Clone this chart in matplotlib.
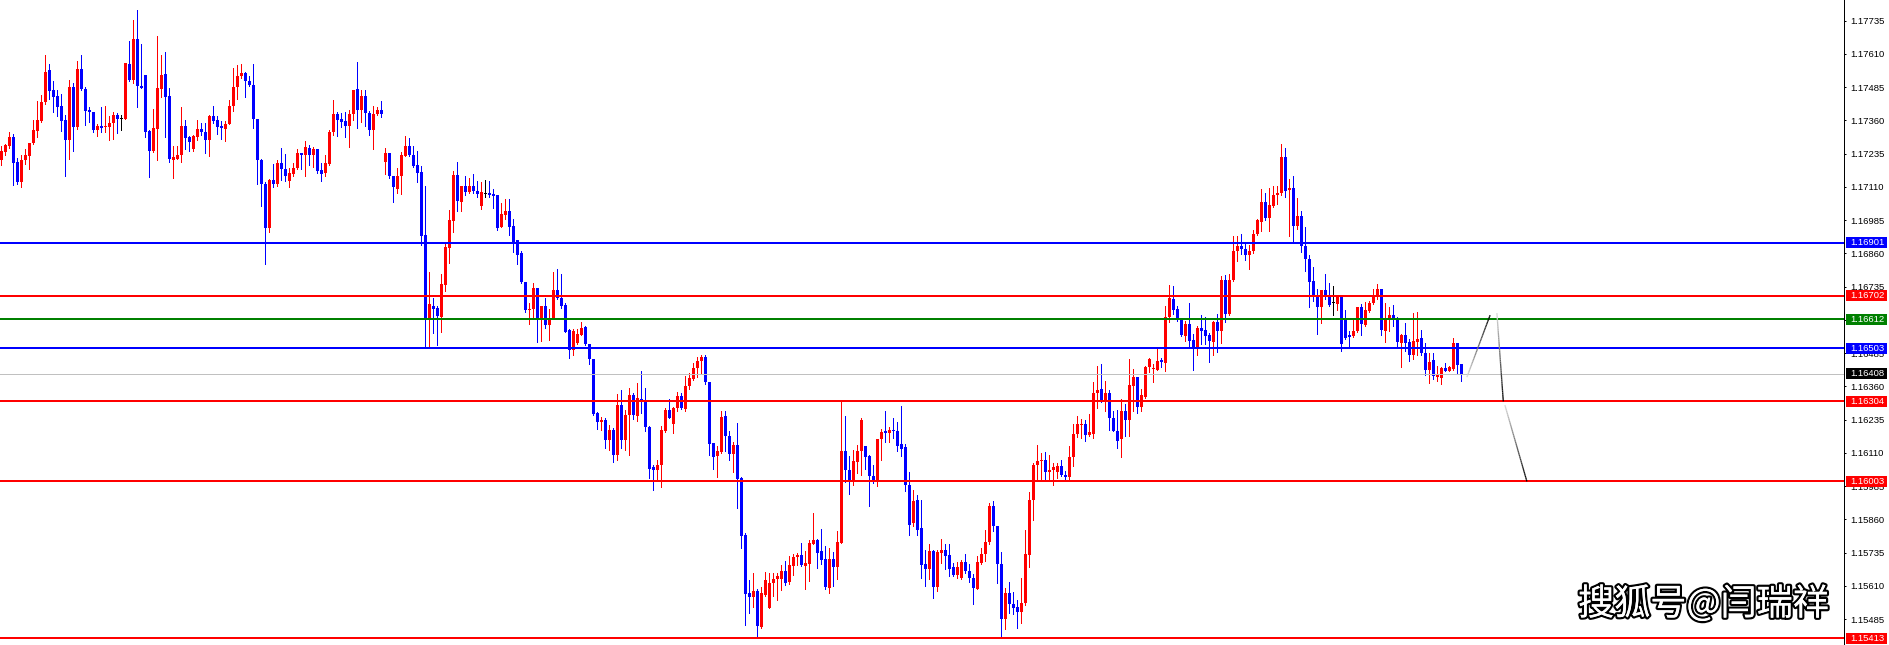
import matplotlib
matplotlib.use("Agg")
import matplotlib.pyplot as plt
import matplotlib.transforms as mtransforms
import matplotlib.patheffects as pe
from matplotlib.collections import LineCollection
import numpy as np

# ---------------- data (prices in 1e-5 units) ----------------
open_pts = [
    117211, 117240, 117263, 117297, 117204, 117128, 117210, 117225, 117275, 117322,
    117357, 117428, 117548, 117473, 117451, 117413, 117363, 117288, 117486, 117334,
    117554, 117479, 117401, 117393, 117323, 117341, 117334, 117334, 117351, 117382,
    117367, 117367, 117573, 117511, 117667, 117491, 117532, 117319, 117244, 117329,
    117478, 117536, 117451, 117210, 117217, 117232, 117341, 117297, 117251, 117297,
    117329, 117317, 117286, 117378, 117361, 117338, 117328, 117348, 117416, 117486,
    117526, 117538, 117509, 117494, 117367, 117213, 117123, 116954, 117138, 117123,
    117200, 117179, 117134, 117157, 117182, 117236, 117229, 117257, 117232, 117251,
    117172, 117163, 117197, 117317, 117384, 117366, 117357, 117338, 117384, 117478,
    117398, 117453, 117388, 117326, 117386, 117401, 117203, 117236, 117153, 117104,
    117150, 117228, 117263, 117231, 117194, 117165, 116928, 116613, 116663, 116654,
    116623, 116741, 116881, 116981, 117156, 117053, 117113, 117090, 117115, 117096,
    117038, 117084, 117089, 117085, 117078, 116959, 117006, 117021, 116963, 116909,
    116863, 116754, 116646, 116653, 116731, 116613, 116663, 116590, 116619, 116721,
    116691, 116665, 116573, 116498, 116525, 116553, 116585, 116519, 116463, 116260,
    116228, 116234, 116159, 116196, 116102, 116290, 116159, 116253, 116328, 116250,
    116313, 116310, 116206, 116056, 116045, 116063, 116193, 116270, 116220, 116278,
    116325, 116276, 116360, 116387, 116430, 116455, 116470, 116378, 116147, 116100,
    116112, 116250, 116175, 116107, 116141, 116016, 115800, 115582, 115568, 115591,
    115457, 115575, 115526, 115622, 115635, 115637, 115668, 115625, 115685, 115720,
    115726, 115685, 115691, 115768, 115781, 115741, 115710, 115603, 115710, 115681,
    115772, 116116, 116047, 116006, 116076, 116116, 116137, 116097, 116025, 116006,
    116163, 116193, 116185, 116197, 116193, 116143, 116131, 115991, 115845, 115935,
    115828, 115691, 115672, 115743, 115606, 115735, 115747, 115725, 115681, 115650,
    115641, 115701, 115668, 115641, 115600, 115697, 115731, 115776, 115912, 115837,
    115693, 115485, 115582, 115541, 115531, 115512, 115545, 115728, 115932, 116063,
    116078, 116085, 116037, 116045, 116037, 116062, 116028, 116018, 116093, 116181,
    116216, 116220, 116176, 116181, 116335, 116350, 116310, 116337, 116241, 116193,
    116162, 116268, 116234, 116362, 116395, 116283, 116320, 116433, 116424, 116422,
    116458, 116449, 116620, 116690, 116652, 116609, 116549, 116593, 116534, 116505,
    116580, 116574, 116552, 116527, 116602, 116568, 116762, 116633, 116759, 116868,
    116887, 116878, 116853, 116868, 116933, 116980, 117055, 116993, 117039, 117080,
    117087, 117224, 117097, 117105, 116962, 117002, 116887, 116839, 116758, 116702,
    116658, 116724, 116702, 116672, 116670, 116699, 116618, 116555, 116549, 116568,
    116658, 116590, 116645, 116672, 116699, 116728, 116570, 116609, 116627, 116618,
    116524, 116555, 116527, 116480, 116527, 116543, 116487, 116422, 116458, 116397,
    116390, 116430, 116420, 116427, 116522, 116443,
]
high_pts = [
    117263, 117273, 117315, 117309, 117219, 117232, 117253, 117275, 117363, 117432,
    117457, 117607, 117573, 117507, 117476, 117461, 117382, 117513, 117501, 117582,
    117607, 117486, 117411, 117393, 117348, 117411, 117416, 117376, 117392, 117388,
    117382, 117578, 117659, 117738, 117776, 117648, 117532, 117326, 117403, 117679,
    117607, 117619, 117484, 117263, 117263, 117409, 117363, 117303, 117307, 117363,
    117351, 117351, 117382, 117413, 117378, 117357, 117359, 117438, 117557, 117569,
    117572, 117541, 117526, 117573, 117367, 117216, 117128, 117141, 117197, 117213,
    117257, 117234, 117182, 117200, 117251, 117236, 117284, 117269, 117259, 117251,
    117200, 117232, 117326, 117438, 117392, 117388, 117392, 117401, 117476, 117579,
    117476, 117476, 117394, 117413, 117409, 117434, 117257, 117238, 117153, 117181,
    117240, 117300, 117296, 117265, 117244, 117188, 117113, 116790, 116694, 116663,
    116781, 116894, 117025, 117169, 117203, 117115, 117150, 117144, 117160, 117131,
    117128, 117138, 117134, 117104, 117080, 117050, 117063, 117063, 116990, 116909,
    116871, 116754, 116675, 116750, 116731, 116663, 116694, 116650, 116791, 116803,
    116784, 116673, 116575, 116575, 116575, 116604, 116588, 116521, 116465, 116263,
    116244, 116241, 116215, 116204, 116332, 116347, 116271, 116354, 116335, 116372,
    116420, 116353, 116212, 116063, 116085, 116212, 116278, 116312, 116281, 116341,
    116335, 116400, 116410, 116450, 116470, 116480, 116480, 116378, 116147, 116135,
    116266, 116266, 116191, 116153, 116222, 116020, 115810, 115631, 115657, 115597,
    115607, 115662, 115660, 115657, 115660, 115687, 115703, 115722, 115732, 115735,
    115770, 115741, 115781, 115885, 115788, 115826, 115760, 115753, 115737, 115816,
    116301, 116250, 116100, 116122, 116141, 116241, 116137, 116103, 116066, 116163,
    116201, 116266, 116207, 116241, 116226, 116287, 116143, 116038, 115972, 115951,
    115935, 115747, 115766, 115747, 115747, 115785, 115766, 115768, 115697, 115700,
    115707, 115732, 115691, 115656, 115722, 115751, 115822, 115922, 115928, 115837,
    115738, 115601, 115626, 115588, 115556, 115641, 115822, 115963, 116072, 116141,
    116110, 116112, 116103, 116072, 116072, 116085, 116041, 116135, 116220, 116250,
    116237, 116235, 116257, 116378, 116438, 116445, 116381, 116345, 116266, 116270,
    116312, 116293, 116464, 116424, 116395, 116349, 116437, 116468, 116445, 116509,
    116468, 116662, 116743, 116739, 116664, 116612, 116608, 116674, 116559, 116587,
    116630, 116622, 116562, 116608, 116633, 116774, 116778, 116784, 116927, 116924,
    116934, 116902, 116893, 116949, 116989, 117103, 117087, 117105, 117114, 117112,
    117272, 117255, 117139, 117152, 117068, 117020, 116959, 116855, 116808, 116727,
    116724, 116784, 116749, 116737, 116699, 116699, 116649, 116570, 116612, 116658,
    116670, 116677, 116680, 116727, 116747, 116728, 116674, 116658, 116668, 116622,
    116558, 116597, 116537, 116637, 116639, 116574, 116522, 116484, 116484, 116437,
    116434, 116447, 116437, 116543, 116522, 116443,
]
low_pts = [
    117194, 117229, 117257, 117117, 117123, 117109, 117197, 117178, 117273, 117298,
    117353, 117423, 117441, 117391, 117378, 117322, 117151, 117217, 117244, 117328,
    117476, 117344, 117354, 117317, 117301, 117317, 117316, 117286, 117289, 117313,
    117326, 117366, 117507, 117501, 117409, 117482, 117298, 117147, 117241, 117213,
    117448, 117298, 117203, 117142, 117217, 117203, 117253, 117244, 117244, 117288,
    117307, 117238, 117228, 117351, 117311, 117291, 117284, 117348, 117394, 117441,
    117519, 117447, 117491, 117332, 117123, 117038, 116819, 116941, 117109, 117113,
    117138, 117132, 117111, 117151, 117178, 117178, 117151, 117191, 117184, 117163,
    117134, 117151, 117194, 117307, 117301, 117336, 117298, 117261, 117363, 117332,
    117354, 117338, 117307, 117254, 117382, 117373, 117157, 117144, 117053, 117088,
    117085, 117225, 117225, 117184, 117128, 116891, 116506, 116506, 116560, 116516,
    116565, 116719, 116823, 116940, 117019, 117019, 117081, 117088, 117088, 117071,
    117028, 117071, 117073, 117031, 116950, 116959, 116988, 116931, 116865, 116819,
    116750, 116640, 116594, 116615, 116528, 116531, 116581, 116534, 116613, 116688,
    116654, 116563, 116466, 116478, 116521, 116553, 116516, 116444, 116253, 116200,
    116195, 116129, 116121, 116076, 116083, 116129, 116121, 116102, 116238, 116232,
    116260, 116193, 116016, 115972, 116012, 115982, 116188, 116241, 116185, 116266,
    116275, 116266, 116351, 116385, 116395, 116407, 116370, 116103, 116051, 116018,
    116110, 116118, 116082, 116037, 115903, 115753, 115462, 115510, 115532, 115416,
    115453, 115572, 115526, 115572, 115556, 115595, 115612, 115616, 115650, 115687,
    115685, 115597, 115628, 115766, 115676, 115691, 115597, 115585, 115610, 115635,
    115772, 116001, 115957, 115988, 116035, 116026, 116051, 115910, 115997, 115987,
    116085, 116153, 116150, 116166, 116116, 116097, 115966, 115803, 115835, 115803,
    115641, 115610, 115635, 115563, 115591, 115697, 115672, 115647, 115647, 115641,
    115637, 115660, 115625, 115541, 115597, 115691, 115703, 115768, 115816, 115620,
    115416, 115447, 115507, 115503, 115451, 115470, 115538, 115681, 115857, 116003,
    116003, 116003, 116003, 115988, 116016, 116022, 116006, 116003, 116060, 116170,
    116166, 116156, 116172, 116166, 116278, 116303, 116266, 116195, 116191, 116128,
    116095, 116174, 116174, 116268, 116262, 116268, 116318, 116414, 116377, 116422,
    116434, 116418, 116602, 116634, 116605, 116549, 116530, 116512, 116422, 116477,
    116518, 116518, 116452, 116477, 116489, 116524, 116602, 116630, 116755, 116830,
    116859, 116837, 116803, 116862, 116928, 116943, 116987, 116943, 117034, 117047,
    117080, 117074, 116924, 116905, 116953, 116865, 116793, 116658, 116680, 116558,
    116599, 116687, 116662, 116630, 116649, 116493, 116539, 116505, 116547, 116564,
    116555, 116589, 116640, 116670, 116687, 116555, 116527, 116568, 116587, 116505,
    116433, 116495, 116455, 116464, 116480, 116480, 116402, 116372, 116389, 116380,
    116368, 116418, 116418, 116422, 116409, 116380,
]
close_pts = [
    117244, 117267, 117297, 117200, 117128, 117213, 117229, 117275, 117325, 117363,
    117428, 117544, 117469, 117447, 117409, 117359, 117288, 117486, 117334, 117554,
    117478, 117394, 117392, 117323, 117338, 117333, 117338, 117351, 117382, 117367,
    117367, 117576, 117511, 117667, 117488, 117482, 117316, 117244, 117332, 117484,
    117532, 117448, 117216, 117222, 117232, 117341, 117294, 117278, 117301, 117329,
    117317, 117286, 117378, 117357, 117336, 117332, 117348, 117416, 117486, 117528,
    117538, 117507, 117494, 117366, 117210, 117123, 116954, 117138, 117123, 117200,
    117176, 117151, 117161, 117182, 117236, 117229, 117259, 117232, 117251, 117169,
    117159, 117200, 117317, 117384, 117363, 117353, 117338, 117384, 117476, 117398,
    117453, 117388, 117326, 117386, 117401, 117384, 117236, 117151, 117109, 117150,
    117231, 117263, 117231, 117190, 117163, 116925, 116613, 116669, 116650, 116625,
    116744, 116884, 116984, 117156, 117056, 117115, 117090, 117115, 117094, 117085,
    117090, 117084, 117080, 117075, 116954, 117009, 117021, 116959, 116903, 116856,
    116753, 116646, 116653, 116731, 116613, 116663, 116590, 116619, 116721, 116691,
    116663, 116565, 116498, 116569, 116556, 116581, 116519, 116465, 116256, 116228,
    116234, 116159, 116196, 116102, 116290, 116159, 116253, 116328, 116253, 116316,
    116303, 116206, 116051, 116045, 116066, 116197, 116272, 116243, 116278, 116325,
    116278, 116363, 116391, 116430, 116455, 116470, 116375, 116145, 116095, 116116,
    116247, 116172, 116107, 116141, 116013, 115797, 115578, 115570, 115591, 115460,
    115582, 115631, 115622, 115638, 115647, 115666, 115622, 115687, 115720, 115728,
    115688, 115697, 115770, 115781, 115735, 115707, 115606, 115710, 115681, 115776,
    116116, 116047, 116006, 116078, 116118, 116235, 116095, 116022, 116006, 116163,
    116188, 116185, 116197, 116191, 116138, 116126, 115988, 115841, 115931, 115822,
    115687, 115672, 115743, 115606, 115738, 115747, 115722, 115672, 115650, 115681,
    115701, 115666, 115641, 115601, 115701, 115731, 115776, 115910, 115835, 115691,
    115485, 115582, 115541, 115526, 115512, 115547, 115732, 115935, 116066, 116081,
    116085, 116037, 116047, 116056, 116060, 116026, 116018, 116095, 116182, 116220,
    116220, 116176, 116187, 116335, 116347, 116310, 116337, 116241, 116191, 116156,
    116268, 116234, 116364, 116395, 116283, 116328, 116434, 116462, 116427, 116455,
    116453, 116622, 116693, 116649, 116612, 116553, 116593, 116530, 116505, 116580,
    116570, 116549, 116530, 116602, 116568, 116762, 116633, 116762, 116870, 116887,
    116878, 116853, 116868, 116934, 116984, 117055, 116993, 117043, 117080, 117089,
    117224, 117095, 117105, 116962, 117002, 116887, 116839, 116752, 116699, 116658,
    116724, 116699, 116665, 116672, 116699, 116518, 116543, 116547, 116570, 116658,
    116593, 116649, 116674, 116705, 116728, 116574, 116612, 116627, 116614, 116527,
    116555, 116524, 116477, 116530, 116540, 116484, 116422, 116453, 116399, 116408,
    116430, 116420, 116433, 116522, 116440, 116408,
]

level_prices = [1.16901, 1.16702, 1.16612, 1.16503, 1.16304, 1.16003, 1.15413]
level_labels = ["1.16901", "1.16702", "1.16612", "1.16503", "1.16304", "1.16003", "1.15413"]
level_colors = ["#0000FF", "#FF0000", "#008000", "#0000FF", "#FF0000", "#FF0000", "#FF0000"]
current_price = 1.16408
current_label = "1.16408"

tick_values = [1.15485, 1.15610, 1.15735, 1.15860, 1.15985, 1.16110, 1.16235, 1.16360,
               1.16485, 1.16610, 1.16735, 1.16860, 1.16985, 1.17110, 1.17235, 1.17360,
               1.17485, 1.17610, 1.17735]
tick_labels = ["1.15485", "1.15610", "1.15735", "1.15860", "1.15985", "1.16110", "1.16235",
               "1.16360", "1.16485", "1.16610", "1.16735", "1.16860", "1.16985", "1.17110",
               "1.17235", "1.17360", "1.17485", "1.17610", "1.17735"]

# projected path (bar index, price) – three legs
forecast_legs = [
    [(366.4, 1.16395), (372.2, 1.16628)],
    [(373.9, 1.16636), (375.5, 1.16304)],
    [(375.9, 1.16290), (381.4, 1.16003)],
]
watermark = "搜狐号@闫瑞祥"

# ---------------- figure ----------------
W, H = 1889, 645
DPI = 100
fig = plt.figure(figsize=(W / DPI, H / DPI), dpi=DPI, facecolor="white")
axis_px = 1844
ax = fig.add_axes([0, 0, axis_px / W, 1])
ax.set_facecolor("white")

y_top, y_bot = 1.17813, 1.15388
ax.set_ylim(y_bot, y_top)
ax.set_xlim(-0.325, -0.325 + axis_px / 4.0)
px = (y_top - y_bot) / H  # price per pixel
lw1 = 72.0 / DPI          # one pixel in points

o = np.array(open_pts) / 1e5
h = np.array(high_pts) / 1e5
l = np.array(low_pts) / 1e5
c = np.array(close_pts) / 1e5
x = np.arange(len(o))

colors = np.where(c > o, "#FF0000", np.where(c < o, "#0000FF", "#000000"))

# wicks
ax.vlines(x, l, h, colors=colors, linewidth=lw1, antialiased=False, zorder=2)
# bodies
body_lo = np.minimum(o, c)
body_h = np.abs(c - o)
body_h = np.where(body_h < px, px, body_h)
ax.bar(x, body_h, bottom=body_lo, width=0.75, color=colors, linewidth=0,
       antialiased=False, zorder=2.1)

# horizontal levels
for p, col in zip(level_prices, level_colors):
    ax.axhline(p, color=col, linewidth=2 * lw1, zorder=3)
ax.axhline(current_price, color="#C0C0C0", linewidth=lw1, zorder=2.9)

# forecast legs with fading gradient
for leg in forecast_legs:
    (x0, y0), (x1, y1) = leg
    n = 40
    t = np.linspace(0, 1, n + 1)
    xs = x0 + (x1 - x0) * t
    ys = y0 + (y1 - y0) * t
    segs = [[(xs[i], ys[i]), (xs[i + 1], ys[i + 1])] for i in range(n)]
    shades = np.linspace(0.85, 0.0, n)
    cols = [(s, s, s, 1.0) for s in shades]
    lc = LineCollection(segs, colors=cols, linewidths=1.3 * lw1, zorder=3.5)
    ax.add_collection(lc)

# axis styling
for side in ["left", "top", "bottom"]:
    ax.spines[side].set_visible(False)
ax.spines["right"].set_color("black")
ax.spines["right"].set_linewidth(lw1)
ax.set_xticks([])
ax.yaxis.tick_right()
ax.set_yticks(tick_values)
ax.set_yticklabels(tick_labels, fontsize=6.8, family="Liberation Sans", color="black")
ax.tick_params(axis="y", direction="out", length=2.5 * lw1, width=lw1, pad=3.5 * lw1,
               colors="black")

# price boxes on the axis
trans = mtransforms.blended_transform_factory(ax.transAxes, ax.transData)
box_w = 41.0 / axis_px
box_x = 1.0 + 1.5 / axis_px
box_h = 11 * px
txt_x = 1.0 + 6.0 / axis_px
for p, lab, col in list(zip(level_prices, level_labels, level_colors)) + [(current_price, current_label, "#000000")]:
    rect = plt.Rectangle((box_x, p - box_h / 2), box_w, box_h, transform=trans,
                         facecolor=col, edgecolor="none", clip_on=False, zorder=6)
    ax.add_patch(rect)
    ax.text(txt_x, p, lab, transform=trans, color="white", fontsize=6.8,
            family="Liberation Sans", ha="left", va="center", zorder=7, clip_on=False)

# watermark: white glyphs with dark outline and a slight shadow
wx, wy = 1829 / W, 1 - 604 / H
fig.text(wx, wy, watermark, fontsize=26, color="white",
         family=["Noto Sans CJK SC", "DejaVu Sans"], ha="right", va="center", zorder=10,
         path_effects=[pe.withStroke(linewidth=3.2, foreground="#000000"),
                       pe.Normal()])

fig.savefig("out.png", dpi=DPI, facecolor="white")
